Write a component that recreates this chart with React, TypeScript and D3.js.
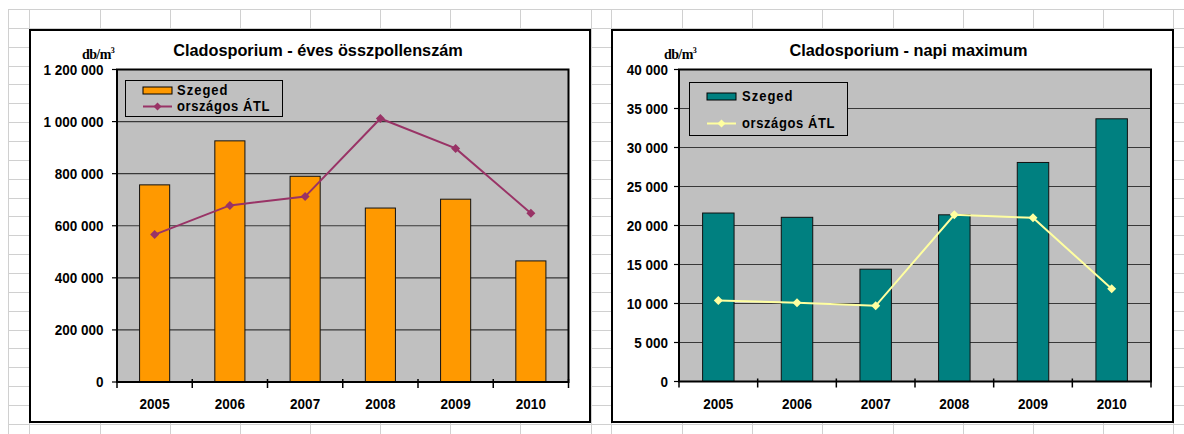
import React from "react";
import * as d3 from "d3";

const years = ["2005", "2006", "2007", "2008", "2009", "2010"];
const szegedAnnual = [757000, 926000, 790000, 668000, 702000, 465000];
const atlAnnual = [566000, 678000, 712000, 1012000, 897000, 648000];
const annualTicks = [0, 200000, 400000, 600000, 800000, 1000000, 1200000];

const szegedMax = [21600, 21050, 14400, 21370, 28080, 33680];
const atlMax = [10400, 10100, 9700, 21370, 20990, 11880];
const maxTicks = [0, 5000, 10000, 15000, 20000, 25000, 30000, 35000, 40000];

const titleAnnual = "Cladosporium - éves összpollenszám";
const titleMax = "Cladosporium - napi maximum";
const legendBar = "Szeged";
const legendLine = "országos ÁTL";

const W = 1184;
const H = 434;
const colLines = [8, 29, 100, 170, 240, 310, 380, 450, 520, 591, 611, 682, 752, 822, 893, 963, 1033, 1103, 1173];

const fmt = (v: number) => d3.format(",")(v).replace(/,/g, " ");

function T(props: any) {
  const { x, y, anchor = "start", size = 13, weight = "bold", sy = 1.12, family = "'Liberation Sans', Arial, sans-serif", ls = 0, fill = "#000", children } = props;
  return (
    <text
      transform={`translate(${x},${y}) scale(1,${sy})`}
      textAnchor={anchor}
      fontSize={size}
      fontWeight={weight}
      fontFamily={family}
      letterSpacing={ls}
      fill={fill}
    >
      {children}
    </text>
  );
}

function Diamond({ cx, cy, r, fill }: any) {
  return <path d={`M${cx},${cy - r}L${cx + r},${cy}L${cx},${cy + r}L${cx - r},${cy}Z`} fill={fill} />;
}

function Chart(props: any) {
  const { box, plot, bars, line, ticks, max, barColor, lineColor, title, titleX, legend, labelOff, unitX } = props;
  const x = d3.scaleBand().domain(years).range([plot.x0, plot.x1]).padding(0);
  const y = d3.scaleLinear().domain([0, max]).range([plot.y1, plot.y0]);
  const bw = x.bandwidth();
  const lineGen = d3
    .line<number>()
    .x((_, i) => (x(years[i]) as number) + bw / 2)
    .y((d) => y(d));
  const bounds = years.map((yr) => x(yr) as number).concat([plot.x1]);
  return (
    <g>
      <rect x={box.x} y={box.y} width={box.w} height={box.h} fill="#fff" stroke="#000" strokeWidth={2} />
      <T x={titleX} y={56} anchor="middle" size={16.3} sy={1.05}>
        {title}
      </T>
      <text x={unitX} y={59} fontSize={14} fontWeight="bold" fontFamily="'Liberation Serif', 'Times New Roman', serif" letterSpacing={-0.6}>
        db/m
        <tspan fontSize={8} dy={-6}>
          3
        </tspan>
      </text>
      <rect x={plot.x0} y={plot.y0} width={plot.x1 - plot.x0} height={plot.y1 - plot.y0} fill="#C0C0C0" />
      {ticks.map((t: number) => (
        <g key={t}>
          <line x1={plot.x0} x2={plot.x1} y1={y(t)} y2={y(t)} stroke="#383838" strokeWidth={1.2} />
          <line x1={plot.x0 - 5} x2={plot.x0} y1={y(t)} y2={y(t)} stroke="#000" strokeWidth={1.2} />
          <T x={plot.x0 - labelOff} y={y(t) + 5} anchor="end" size={13.5}>
            {fmt(t)}
          </T>
        </g>
      ))}
      {bars.map((v: number, i: number) => (
        <rect
          key={i}
          x={(x(years[i]) as number) + bw * 0.3}
          y={y(v)}
          width={bw * 0.4}
          height={plot.y1 - y(v)}
          fill={barColor}
          stroke="#111"
          strokeWidth={1}
        />
      ))}
      <path d={lineGen(line) as string} fill="none" stroke={lineColor} strokeWidth={2} />
      {line.map((v: number, i: number) => (
        <Diamond key={i} cx={(x(years[i]) as number) + bw / 2} cy={y(v)} r={4.5} fill={lineColor} />
      ))}
      <rect x={plot.x0} y={plot.y0} width={plot.x1 - plot.x0} height={plot.y1 - plot.y0} fill="none" stroke="#000" strokeWidth={2} />
      {bounds.map((b: number, i: number) => (
        <line key={i} x1={b} x2={b} y1={plot.y1 - 3} y2={plot.y1 + 6} stroke="#000" strokeWidth={1.5} />
      ))}
      {years.map((yr) => (
        <T key={yr} x={(x(yr) as number) + bw / 2} y={plot.y1 + 27} anchor="middle" size={13.5}>
          {yr}
        </T>
      ))}
      <rect x={legend.x} y={legend.y} width={legend.w} height={legend.h} fill="#C0C0C0" stroke="#000" strokeWidth={1} />
      <rect x={legend.sx} y={legend.b1 - 8} width={29} height={7} fill={barColor} stroke="#000" strokeWidth={1} />
      <T x={legend.tx} y={legend.b1} size={13} ls={1}>
        {legendBar}
      </T>
      <line x1={legend.sx} x2={legend.sx + 29} y1={legend.b2 - 4} y2={legend.b2 - 4} stroke={lineColor} strokeWidth={2} />
      <Diamond cx={legend.sx + 14.5} cy={legend.b2 - 4} r={4} fill={lineColor} />
      <T x={legend.tx} y={legend.b2} size={13} ls={0.6}>
        {legendLine}
      </T>
    </g>
  );
}

export default function App() {
  const rowLines: number[] = [];
  for (let i = 0; i <= 22; i++) rowLines.push(9 + i * 18.86);
  return (
    <svg width={W} height={H} style={{ position: "absolute", left: 0, top: 0, background: "#fff" }}>
      {colLines.map((c) => (
        <line key={"c" + c} x1={c + 0.5} x2={c + 0.5} y1={9} y2={H} stroke="#d0d0d0" strokeWidth={1} />
      ))}
      {rowLines.map((r) => (
        <line key={"r" + r} x1={8} x2={W} y1={Math.round(r) + 0.5} y2={Math.round(r) + 0.5} stroke="#d0d0d0" strokeWidth={1} />
      ))}
      <Chart
        box={{ x: 30, y: 30, w: 560, h: 392 }}
        plot={{ x0: 117, x1: 568.5, y0: 69.5, y1: 382 }}
        bars={szegedAnnual}
        line={atlAnnual}
        ticks={annualTicks}
        max={1200000}
        barColor="#FF9900"
        lineColor="#993366"
        title={titleAnnual}
        titleX={318}
        labelOff={13.5}
        unitX={82}
        legend={{ x: 125.5, y: 80.5, w: 157, h: 36, sx: 143, tx: 177, b1: 95, b2: 110.5 }}
      />
      <Chart
        box={{ x: 612, y: 30, w: 561, h: 392 }}
        plot={{ x0: 679, x1: 1151, y0: 69.5, y1: 381.5 }}
        bars={szegedMax}
        line={atlMax}
        ticks={maxTicks}
        max={40000}
        barColor="#008080"
        lineColor="#FFFFA0"
        title={titleMax}
        titleX={908.5}
        labelOff={11}
        unitX={664}
        legend={{ x: 689.5, y: 82.5, w: 158, h: 53, sx: 707, tx: 742, b1: 101, b2: 127.5 }}
      />
    </svg>
  );
}
